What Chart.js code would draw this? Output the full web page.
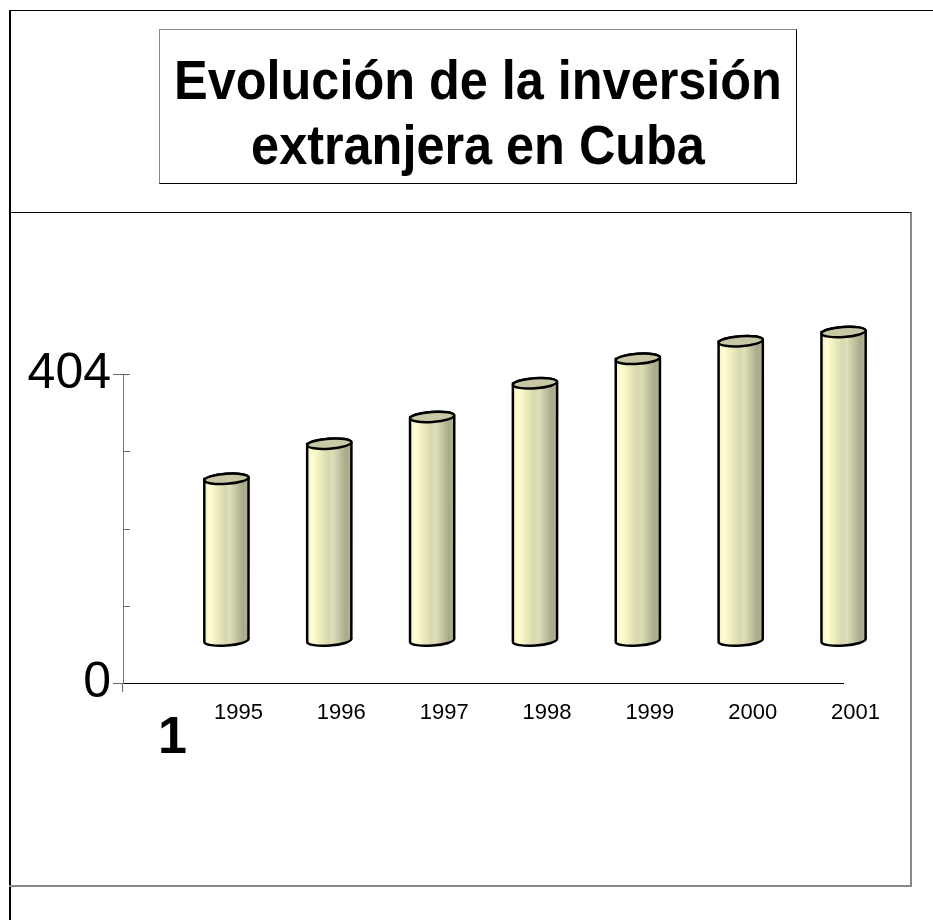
<!DOCTYPE html>
<html>
<head>
<meta charset="utf-8">
<script src="https://cdn.jsdelivr.net/npm/chart.js@4.4.1/dist/chart.umd.min.js"></script>
<style>
  html, body { margin: 0; padding: 0; background: #fff; }
  body { width: 933px; height: 920px; position: relative; overflow: hidden; font-family: "Liberation Sans", Arial, sans-serif; }
  .outer { position: absolute; left: 9px; top: 10px; width: 930px; height: 920px; border-left: 2px solid #000; border-top: 1px solid #000; }
  .plotbox { position: absolute; left: 9px; top: 212px; width: 901px; height: 672px; border-top: 1px solid #000; border-right: 2px solid #888; border-bottom: 2px solid #888; }
  .title { position: absolute; left: 159px; top: 29px; width: 638px; height: 155px; border: 1px solid #000; border-color: #888 #000 #000 #888;
           font-weight: bold; font-size: 56px; line-height: 65px; padding-top: 17px; box-sizing: border-box; }
  .title span { display: block; width: max-content; margin-left: 50%; transform: translateX(-50%) scaleX(0.9); white-space: nowrap; }
  canvas { position: absolute; left: 0; top: 0; }
</style>
</head>
<body>
<div class="outer"></div>
<div class="plotbox"></div>
<div class="title"><span>Evolución de la inversión</span><span>extranjera en Cuba</span></div>
<canvas id="chart" width="933" height="920"></canvas>
<script>
const years = ['1995', '1996', '1997', '1998', '1999', '2000', '2001'];
const values = [212, 258, 293, 337, 369, 392, 404];
const yTicks = [0, 101, 202, 303, 404];
const yLabels = [0, 404];
const seriesName = '1';

// cylinders sit on the back plane of the 3D chart
const depthX = 52;
const depthY = -42;

const cylinders = {
    id: 'cylinders',
    afterDatasetsDraw(chart) {
        const ctx = chart.ctx;
        const meta = chart.getDatasetMeta(0);
        meta.data.forEach(bar => {
            const cx = bar.x + depthX;
            const top = bar.y + depthY;
            const bottom = bar.base + depthY;
            const rx = bar.width / 2;
            const ry = 5;
            const rot = -0.07;
            const left = cx - rx, right = cx + rx;

            const g = ctx.createLinearGradient(left, 0, right, 0);
            g.addColorStop(0, '#f2f2c4');
            g.addColorStop(0.12, '#ffffd2');
            g.addColorStop(0.3, '#ececbf');
            g.addColorStop(0.48, '#d7d7b0');
            g.addColorStop(0.58, '#dedeb9');
            g.addColorStop(0.72, '#c6c6a3');
            g.addColorStop(0.88, '#a9a98c');
            g.addColorStop(1, '#b4b496');

            ctx.save();
            ctx.beginPath();
            ctx.moveTo(left, top);
            ctx.lineTo(left, bottom);
            ctx.ellipse(cx, bottom, rx, ry, rot, Math.PI, 0, true);
            ctx.lineTo(right, top);
            ctx.ellipse(cx, top, rx, ry, rot, 0, Math.PI, true);
            ctx.closePath();
            ctx.fillStyle = g;
            ctx.fill();
            ctx.lineWidth = 2.5;
            ctx.lineJoin = 'round';
            ctx.strokeStyle = '#000';
            ctx.stroke();

            ctx.beginPath();
            ctx.ellipse(cx, top, rx, ry, rot, 0, Math.PI * 2);
            ctx.fillStyle = '#c8c8a6';
            ctx.fill();
            ctx.stroke();
            ctx.restore();
        });
    },
    afterDraw(chart) {
        const ctx = chart.ctx;
        const y = chart.scales.y;
        const x0 = chart.chartArea.left;
        ctx.save();
        ctx.strokeStyle = '#666';
        ctx.lineWidth = 1;
        yTicks.forEach(v => {
            if (v === 0) return;
            const py = Math.round(y.getPixelForValue(v)) + 0.5;
            ctx.beginPath();
            ctx.moveTo(x0, py);
            ctx.lineTo(x0 + 7, py);
            ctx.stroke();
        });
        ctx.fillStyle = '#000';
        ctx.font = 'bold 52px "Liberation Sans", Arial, sans-serif';
        ctx.textAlign = 'left';
        ctx.textBaseline = 'alphabetic';
        ctx.fillText(seriesName, 158, 753);
        ctx.restore();
    }
};

new Chart(document.getElementById('chart'), {
    type: 'bar',
    data: {
        labels: years,
        datasets: [{
            label: seriesName,
            data: values,
            backgroundColor: 'rgba(0,0,0,0)',
            borderWidth: 0,
            categoryPercentage: 1,
            barPercentage: 0.43
        }]
    },
    options: {
        responsive: false,
        animation: false,
        layout: { padding: { left: 0, top: 374, right: 90, bottom: 177 } },
        plugins: {
            legend: { display: false },
            tooltip: { enabled: false },
            title: { display: false }
        },
        scales: {
            x: {
                grid: {
                    drawOnChartArea: false,
                    tickLength: 9,
                    color: c => c.index === 0 ? '#666' : 'rgba(0,0,0,0)'
                },
                border: { color: '#000', width: 1 },
                ticks: {
                    color: '#000',
                    font: { family: '"Liberation Sans", Arial, sans-serif', size: 22 },
                    labelOffset: 64,
                    padding: 8,
                    maxRotation: 0,
                    autoSkip: false
                },
                afterFit: s => { s.height = 60; }
            },
            y: {
                min: 0,
                max: 404,
                afterBuildTicks: s => { s.ticks = yTicks.map(v => ({ value: v })); },
                grid: {
                    drawOnChartArea: false,
                    tickLength: 10,
                    color: c => yLabels.includes(c.tick.value) ? '#666' : 'rgba(0,0,0,0)'
                },
                border: { color: '#777', width: 1 },
                ticks: {
                    color: '#000',
                    font: { family: '"Liberation Sans", Arial, sans-serif', size: 50 },
                    padding: 2,
                    callback: v => yLabels.includes(v) ? String(v) : ''
                },
                afterFit: s => { s.width = 123; }
            }
        }
    },
    plugins: [cylinders]
});
</script>
</body>
</html>
